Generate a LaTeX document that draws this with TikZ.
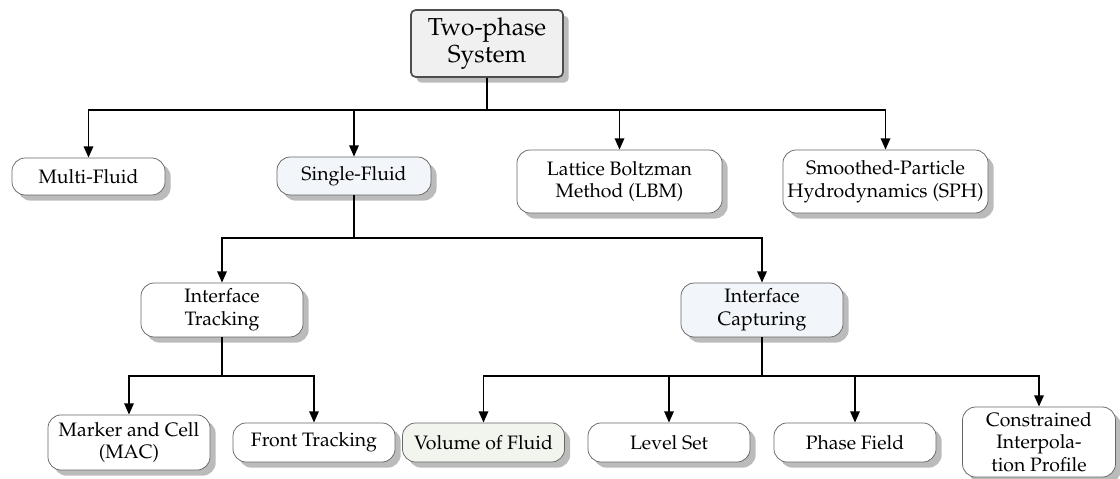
\documentclass[tikz,border=0pt]{standalone}
\usepackage[T1]{fontenc}
\usepackage{mathpazo}
\usepackage{tikz}
\usetikzlibrary{positioning,arrows.meta,shadows}

\definecolor{rootfill}{HTML}{F0F0F0}
\definecolor{rootline}{HTML}{4D4D4D}
\definecolor{bluefill}{HTML}{F2F6FA}
\definecolor{greenfill}{HTML}{F2F4EE}
\definecolor{shadowgray}{HTML}{BBBBBB}

\begin{document}
\begin{tikzpicture}[
    x=0.53pt, y=-0.53pt,
    every node/.style={font=\fontsize{10.3pt}{12pt}\selectfont},
    box/.style={draw=black!60, fill=white, rounded corners=7pt, align=center,
      inner sep=2pt, minimum width=85.9pt, minimum height=20.7pt,
      drop shadow={shadow xshift=3pt, shadow yshift=-3pt, fill=shadowgray, opacity=1}},
    rootbox/.style={box, draw=rootline, line width=0.9pt, fill=rootfill, rounded corners=2.5pt,
      font=\fontsize{13pt}{14pt}\selectfont, minimum width=80.6pt, minimum height=35.5pt},
    arr/.style={-{Triangle[length=6pt,width=5pt]}, line width=1pt}
  ]
    \useasboundingbox (0,0) rectangle (1120,479);

    \node[rootbox] (root) at (487,43.5) {Two-phase\\System};

    % first level
    \node[box, minimum width=81.1pt, minimum height=19.6pt] (multi) at (88.5,176.5) {Multi-Fluid};
    \node[box, fill=bluefill, minimum width=81.6pt, minimum height=20.1pt] (single) at (354,176) {Single-Fluid};
    \node[box, minimum width=108.7pt, minimum height=33.4pt] (lbm) at (619.5,181.5) {Lattice Boltzman\\Method (LBM)};
    \node[box, minimum width=108.7pt, minimum height=33.4pt] (sph) at (885.5,181.5) {Smoothed-Particle\\Hydrodynamics (SPH)};

    % second level
    \node[box, minimum height=28.6pt] (track) at (222,310) {Interface\\Tracking};
    \node[box, fill=bluefill, minimum height=28.6pt] (capt) at (762,310) {Interface\\Capturing};

    % third level
    \node[box, minimum height=29.2pt] (mac) at (129,442.5) {Marker and Cell\\(MAC)};
    \node[box] (front) at (314,442.5) {Front Tracking};
    \node[box, fill=greenfill] (vof) at (483.5,442.5) {Volume of Fluid};
    \node[box] (lset) at (669,442.5) {Level Set};
    \node[box] (pfield) at (855,442.5) {Phase Field};
    \node[box, minimum width=81.1pt, minimum height=37.1pt] (cip) at (1039,442) {Constrained\\Interpola-\\tion Profile};

    \coordinate (bus1) at (487,110);
    \coordinate (bus2) at (354,238);
    \coordinate (bus3) at (222,376);
    \coordinate (bus4) at (762,376);

    \foreach \n in {multi,single,lbm,sph}
      \draw[arr] (root.south) -- (bus1) -| (\n.north);
    \foreach \n in {track,capt}
      \draw[arr] (single.south) -- (bus2) -| (\n.north);
    \foreach \n in {mac,front}
      \draw[arr] (track.south) -- (bus3) -| (\n.north);
    \foreach \n in {vof,lset,pfield,cip}
      \draw[arr] (capt.south) -- (bus4) -| (\n.north);
  \end{tikzpicture}
\end{document}
